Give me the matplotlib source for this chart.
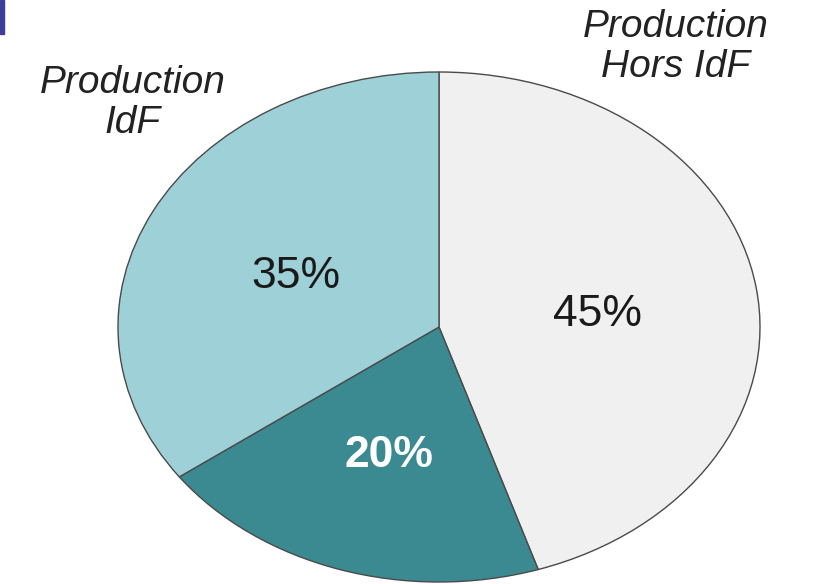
import matplotlib
matplotlib.use('Agg')
import matplotlib.pyplot as plt
from matplotlib.patches import Rectangle

plt.rcParams['font.family'] = ['Liberation Sans', 'DejaVu Sans']

# ---- data ----
shares = [45, 20, 35]
names = ['Production\nHors IdF', '', 'Production\nIdF']
colors = ['#f0f0f0', '#3b8a91', '#9ed1d7']
pct_colors = ['#1a1a1a', 'white', '#1a1a1a']

W, H = 816, 584
fig = plt.figure(figsize=(W / 100, H / 100), dpi=100)
ax = fig.add_axes([0, 0, 1, 1])

# pie centre / radii in pixels (the original is stretched horizontally)
cx, cy, rx, ry = 439, 327, 321, 255

wedges, texts, autotexts = ax.pie(
    shares, colors=colors, startangle=90, counterclock=False,
    autopct='%d%%', pctdistance=0.5,
    wedgeprops=dict(edgecolor='#4a4a4a', linewidth=1.0),
    textprops=dict(fontsize=32))
for t, c in zip(autotexts, pct_colors):
    t.set_color(c)
    x, y = t.get_position()
    t.set_position((x, y - 7 / ry))   # numbers sit a bit lower in the original
autotexts[1].set_fontweight('bold')

ax.set_aspect('auto')
ax.set_xlim(-cx / rx, (W - cx) / rx)
ax.set_ylim(-(H - cy) / ry, cy / ry)
ax.axis('off')

# slice names, placed like the original
fig.text(676 / W, 1 - 47 / H, names[0], ha='center', va='center',
         fontsize=28, style='italic', color='#222222', linespacing=1.15)
fig.text(133 / W, 1 - 103 / H, names[2], ha='center', va='center',
         fontsize=28, style='italic', color='#222222', linespacing=1.15)

# little blue bar at the top-left border
fig.patches.append(Rectangle((0, 1 - 34 / H), 4 / W, 34 / H,
                             transform=fig.transFigure, color='#3d3d9a'))

fig.savefig('out.png', dpi=100)
